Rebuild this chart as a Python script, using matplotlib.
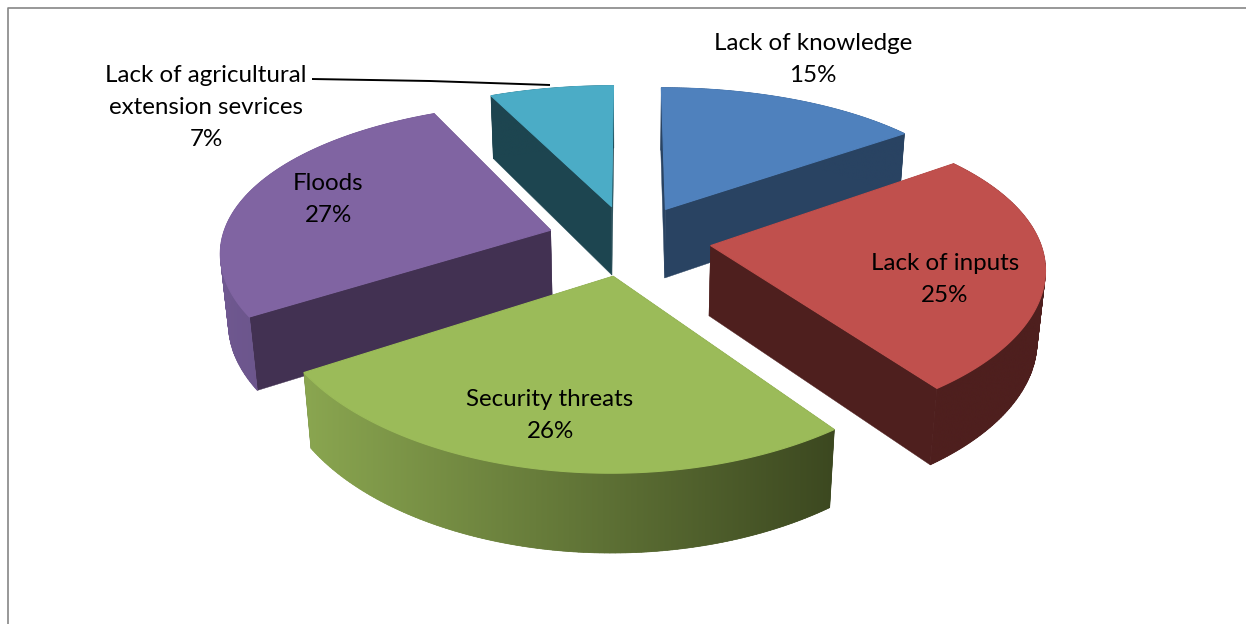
import numpy as np
import matplotlib
matplotlib.use('Agg')
import matplotlib.pyplot as plt
from matplotlib.colors import to_rgb
from matplotlib.patches import Polygon

# Data
labels = ['Lack of knowledge', 'Lack of inputs', 'Security threats', 'Floods',
          'Lack of agricultural\nextension sevrices']
values = [15, 25, 26, 27, 7]

top_colors = ['#4f81bd', '#c0504d', '#9bbb59', '#8064a2', '#4bacc6']
side_colors = ['#294362', '#4e1f1e', '#43502a', '#423152', '#1d4550']
arc_left = ['#294362', '#4e1f1e', '#8aa650', '#6f5890', '#1d4550']
arc_right = ['#294362', '#4e1f1e', '#3c4820', '#5f4b7c', '#1d4550']
label_pos = [(813, 59.5), (945, 279.5), (550, 415.5), (328, 199.5), (206, 107.5)]

# Projection settings
cx, cy = 629, 240
A, B = 329, 151
kx, ky, kd = 0.128, 0.165, 0.1
m = 0.02
D = 70
explode_x, explode_y = 0.25, 0.235


def project(X, Y, z):
    sx = 1.0 / (1 + kx * Y + m * z)
    sy = 1.0 / (1 + ky * Y)
    sd = 1.0 / (1 + kd * Y)
    return cx + A * X * sx, cy - B * Y * sy + D * z * sd


fig = plt.figure(figsize=(12.46, 6.24), dpi=100)
ax = fig.add_axes([0, 0, 1, 1])

# Frame
ax.plot([8, 8, 1246], [624, 8, 8], color='#868686', lw=1.2)

# Slices
total = float(sum(values))
starts = np.cumsum([0] + values[:-1]) / total * 2 * np.pi
sweeps = np.array(values) / total * 2 * np.pi
order = [0, 4, 3, 1, 2]

for n, i in enumerate(order):
    zo = 2 + n * 3
    a0, da = starts[i], sweeps[i]
    mid = a0 + da / 2
    ox, oy = explode_x * np.sin(mid), explode_y * np.cos(mid)
    th = np.linspace(a0, a0 + da, 120)
    X = ox + np.sin(th)
    Y = oy + np.cos(th)

    # radial walls
    for j in [0, -1]:
        p1 = project(ox, oy, 0)
        p2 = project(X[j], Y[j], 0)
        p3 = project(X[j], Y[j], 1)
        p4 = project(ox, oy, 1)
        ax.add_patch(Polygon([p1, p2, p3, p4], closed=True, fc=side_colors[i],
                             ec=side_colors[i], lw=0.3, zorder=zo))

    tx, ty = project(X, Y, 0)
    bx, by = project(X, Y, 1)
    xmin, xmax = min(tx.min(), bx.min()), max(tx.max(), bx.max())
    ymin, ymax = min(ty.min(), by.min()), max(ty.max(), by.max())
    c0, c1 = np.array(to_rgb(arc_left[i])), np.array(to_rgb(arc_right[i]))

    # curved wall strips, these fill the silhouette where the arcs turn round
    for j in range(len(th) - 1):
        col = c0 + (c1 - c0) * (tx[j] - xmin) / (xmax - xmin)
        ax.add_patch(Polygon([(tx[j], ty[j]), (tx[j + 1], ty[j + 1]),
                              (bx[j + 1], by[j + 1]), (bx[j], by[j])],
                             closed=True, fc=col, ec=col, lw=0.5, zorder=zo))

    # smooth gradient over the strips to hide their seams
    wall = Polygon(list(zip(tx, ty)) + list(zip(bx[::-1], by[::-1])), closed=True,
                   fc='none', ec='none', transform=ax.transData)
    ax.add_patch(wall)
    grad = np.linspace(c0, c1, 256)[None, :, :]
    im = ax.imshow(grad, extent=[xmin, xmax, ymax, ymin], aspect='auto',
                   interpolation='bilinear', zorder=zo + 1)
    im.set_clip_path(wall)

    # top face
    ax0, ay0 = project(ox, oy, 0)
    pts = [(ax0, ay0)] + list(zip(tx, ty))
    ax.add_patch(Polygon(pts, closed=True, fc=top_colors[i], ec=top_colors[i],
                         lw=0.8, zorder=zo + 2))

# Leader line
ax.plot([312, 430, 550], [79, 81, 85], color='black', lw=1.4,
        solid_capstyle='butt', zorder=30)

# Labels
for i in range(len(labels)):
    ax.text(label_pos[i][0], label_pos[i][1], labels[i] + '\n' + str(values[i]) + '%',
            ha='center', va='center', multialignment='center', fontsize=17.4,
            family='Lato', color='black', linespacing=1.65, zorder=40)

ax.set_xlim(0, 1246)
ax.set_ylim(624, 0)
ax.axis('off')

fig.savefig('out.png', dpi=100)
